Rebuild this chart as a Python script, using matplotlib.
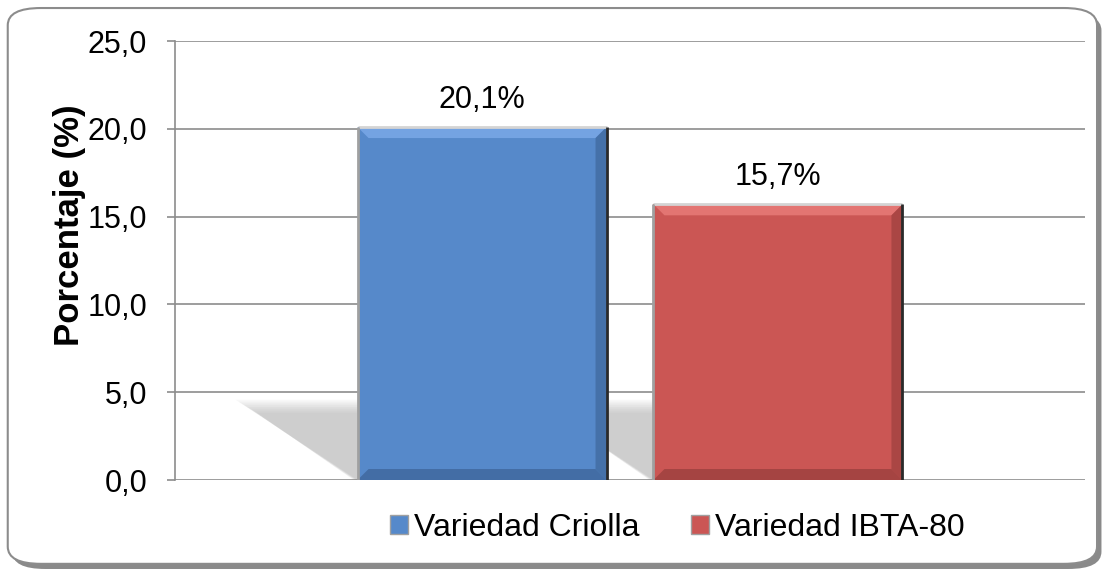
import matplotlib.pyplot as plt
import matplotlib as mpl
from matplotlib.patches import FancyBboxPatch, Polygon, Patch
from matplotlib.ticker import FuncFormatter

mpl.rcParams['font.family'] = ['Liberation Sans', 'DejaVu Sans']

# ------------------------------------------------------- #

series = ['Variedad Criolla', 'Variedad IBTA-80']
values = [20.1, 15.7]
labels = ['20,1%', '15,7%']
colors = ['#5689CA', '#CB5654']
light = ['#74A3E2', '#E37572']
dark = ['#3F679C', '#9C403E']
yticks = [0, 5, 10, 15, 20, 25]

# ------------------------------------------------------- #

fig = plt.figure(figsize=(11.07, 5.73), dpi=100)

# outer rounded frame with a soft shadow
shadow = FancyBboxPatch((0.011, 0.007), 0.984, 0.97, boxstyle='round,pad=0,rounding_size=0.03',
                        transform=fig.transFigure, facecolor='#8a8a8a', edgecolor='none', zorder=0)
frame = FancyBboxPatch((0.007, 0.016), 0.984, 0.97, boxstyle='round,pad=0,rounding_size=0.03',
                       transform=fig.transFigure, facecolor='white', edgecolor='#8c8c8c',
                       linewidth=1.5, zorder=1)
fig.patches.extend([shadow, frame])

ax = fig.add_axes([0.1581, 0.1623, 0.822, 0.7661])
ax.set_facecolor('none')
ax.set_zorder(2)

width = 0.2736
gap = 0.0516
offsets = [-(width + gap) / 2, (width + gap) / 2]

ax.set_xlim(-0.5, 0.5)
ax.set_ylim(0, 25)

# pixel -> data conversions
px_x = 1.0 / 910
px_y = 25.0 / 439

# cast shadows (drawn first, behind the bars), layered to fake a blur
for i in [1, 0]:
    x0 = offsets[i] - width / 2
    x1 = offsets[i] + width / 2
    for k in range(8):
        grow = (8 - k) * 3
        h = (82 - grow * 0.6) * px_y
        sh = 125 * px_x
        poly = Polygon([(x0 - grow * 0.2 * px_x, 0.5 * px_y), (x0 - sh + grow * px_x, h),
                        (x1 - sh, h), (x1, 0.5 * px_y)],
                       closed=True, facecolor='#808080', edgecolor='none', alpha=0.055, zorder=1)
        ax.add_patch(poly)

bars = ax.bar(offsets, values, width=width, color=colors, edgecolor='none', zorder=3)

# bevel edges
b = 11
for i, bar in enumerate(bars):
    x0 = bar.get_x()
    x1 = x0 + bar.get_width()
    y1 = bar.get_height()
    bx = b * px_x
    by = b * px_y
    top = Polygon([(x0, y1), (x1, y1), (x1 - bx, y1 - by), (x0 + bx, y1 - by)],
                  facecolor=light[i], edgecolor='none', zorder=4)
    right = Polygon([(x1, 0), (x1, y1), (x1 - bx, y1 - by), (x1 - bx, by)],
                    facecolor=dark[i], edgecolor='none', zorder=4, alpha=0.7)
    bottom = Polygon([(x0, 0), (x1, 0), (x1 - bx, by), (x0 + bx, by)],
                     facecolor=dark[i], edgecolor='none', zorder=4, alpha=0.8)
    for p in [top, right, bottom]:
        ax.add_patch(p)
    ax.plot([x0, x1], [y1, y1], color='#d4d4d4', lw=2, zorder=5, solid_capstyle='butt')
    ax.plot([x0, x0], [0, y1], color='#a0a0a0', lw=2, zorder=5, solid_capstyle='butt')
    ax.plot([x1, x1], [0, y1], color='#2a2a2a', lw=2, zorder=5, solid_capstyle='butt')
    ax.annotate(labels[i], (bar.get_x() + bar.get_width() / 2, y1), xytext=(0, 9),
                textcoords='offset points', ha='center', va='bottom', fontsize=22, zorder=6)

ax.set_yticks(yticks)
ax.yaxis.set_major_formatter(FuncFormatter(lambda v, p: ('%.1f' % v).replace('.', ',')))
ax.yaxis.grid(True, color='#8c8c8c', linewidth=1.2, zorder=0)
ax.set_axisbelow(True)
ax.set_xticks([])
for s in ['top', 'right', 'bottom']:
    ax.spines[s].set_visible(False)
ax.spines['left'].set_color('#8c8c8c')
ax.spines['left'].set_linewidth(1.2)
ax.tick_params(axis='y', direction='out', length=6, width=1.2, color='#8c8c8c',
               labelsize=22, pad=14)

fig.text(70 / 1107, 1 - 225 / 573, 'Porcentaje (%)', rotation=90, ha='center', va='center',
         fontsize=25, fontweight='bold')

handles = [Patch(facecolor=colors[i], edgecolor='#a0a0a0', label=series[i]) for i in range(2)]
fig.legend(handles=handles, loc='center', bbox_to_anchor=(0.612, 0.079), ncol=2, frameon=False,
           fontsize=23, handlelength=0.55, handleheight=0.55, handletextpad=0.2, columnspacing=1.6)

plt.savefig('out.png', dpi=100, facecolor='white')
